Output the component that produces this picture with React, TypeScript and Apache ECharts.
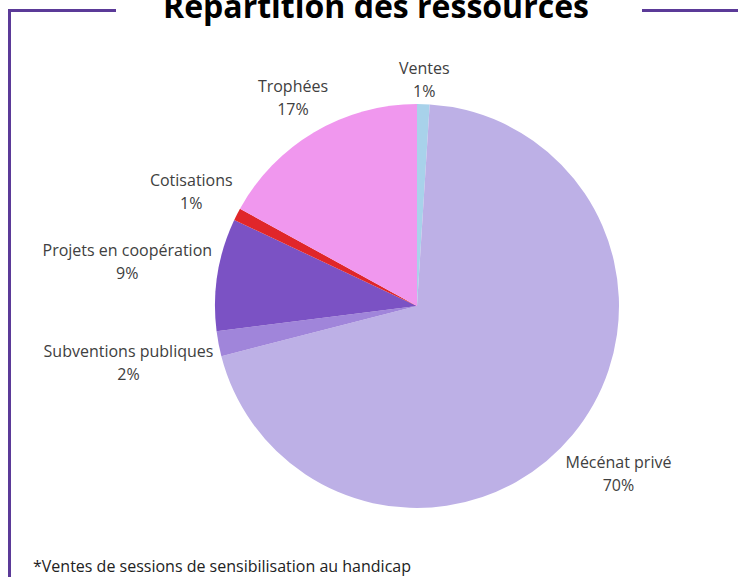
import React, { useEffect, useRef } from "react";
import * as echarts from "echarts";

const categories = [
  "Ventes",
  "Mécénat privé",
  "Subventions publiques",
  "Projets en coopération",
  "Cotisations",
  "Trophées",
];
const values = [1, 70, 2, 9, 1, 17];
const colors = ["#A8D2EA", "#BDB0E6", "#A085DA", "#7B52C4", "#E0262A", "#F097EE"];
const titleText = "Répartition des ressources";
const footnote = "*Ventes de sessions de sensibilisation au handicap";

const CX = 417;
const CY = 306;
const R = 202;
const GAP = 4;
const FONT = "'Open Sans', 'Noto Sans', sans-serif";
const FRAME = "#5B3A98";

export default function App() {
  const ref = useRef<HTMLDivElement>(null);
  useEffect(() => {
    if (!ref.current) return;
    const chart = echarts.init(ref.current, null, { renderer: "svg" });
    const total = values.reduce((a, b) => a + b, 0);
    const option: any = {
      animation: false,
      backgroundColor: "#ffffff",
      graphic: [
        { type: "line", shape: { x1: 9.5, y1: 10.5, x2: 9.5, y2: 580 }, style: { stroke: FRAME, lineWidth: 3 } },
        { type: "line", shape: { x1: 8, y1: 10.5, x2: 116, y2: 10.5 }, style: { stroke: FRAME, lineWidth: 3 } },
        { type: "line", shape: { x1: 642, y1: 10.5, x2: 740, y2: 10.5 }, style: { stroke: FRAME, lineWidth: 3 } },
        {
          type: "text",
          x: 376,
          y: 5,
          style: {
            text: titleText,
            font: `bold 32px ${FONT}`,
            fill: "#000000",
            align: "center",
            verticalAlign: "middle",
          },
        },
        {
          type: "text",
          x: 33,
          y: 566,
          style: {
            text: footnote,
            font: `16px ${FONT}`,
            fill: "#222222",
            align: "left",
            verticalAlign: "middle",
          },
        },
      ],
      series: [
        {
          type: "pie",
          center: [CX, CY],
          radius: R,
          startAngle: 90,
          clockwise: true,
          silent: true,
          emphasis: { disabled: true },
          itemStyle: { borderWidth: 0 },
          labelLine: { show: false },
          label: {
            show: true,
            position: "inside",
            overflow: "none",
            formatter: (p: any) => `${p.name}\n${p.value}%`,
            fontFamily: FONT,
            fontSize: 16,
            lineHeight: 23,
            color: "#404040",
            align: "center",
          },
          labelLayout: (params: any) => {
            const i = params.dataIndex;
            let before = 0;
            for (let k = 0; k < i; k++) before += values[k];
            const mid = ((before + values[i] / 2) / total) * Math.PI * 2;
            const ux = Math.sin(mid);
            const uy = -Math.cos(mid);
            const w = params.labelRect.width / 2;
            const h = params.labelRect.height / 2;
            const t = R + GAP + Math.abs(ux) * w + Math.abs(uy) * h;
            return {
              x: CX + ux * t,
              y: CY + uy * t + (i === 0 ? 3 : 1),
              align: "center",
              verticalAlign: "middle",
            };
          },
          data: categories.map((name, i) => ({
            name,
            value: values[i],
            itemStyle: { color: colors[i] },
          })),
        },
      ],
    };
    chart.setOption(option);
    return () => chart.dispose();
  }, []);
  return (
    <div
      ref={ref}
      style={{ position: "fixed", left: 0, top: 0, width: 738, height: 577, background: "#fff" }}
    />
  );
}
